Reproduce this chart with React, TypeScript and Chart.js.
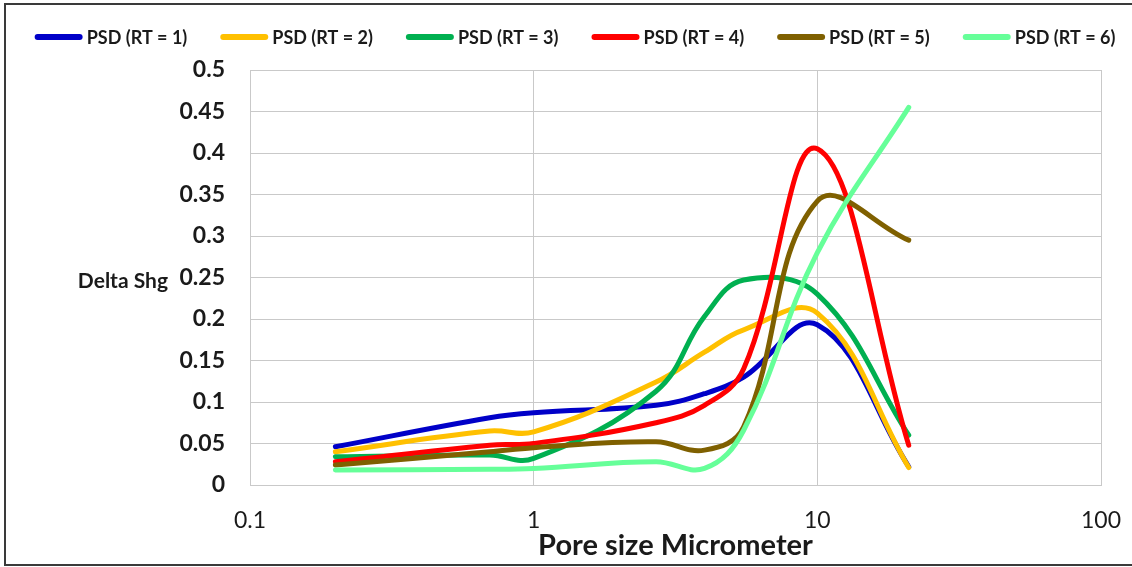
import React, { useEffect, useRef } from "react";
import { Chart, registerables } from "chart.js";

Chart.register(...registerables);

// ---- data ----
const poreSizes = [0.2, 0.7, 1, 2.7, 4, 5.5, 10, 21];
const rt1 = [0.046, 0.081, 0.087, 0.096, 0.11, 0.13, 0.193, 0.022];
const rt2 = [0.04, 0.065, 0.064, 0.124, 0.16, 0.187, 0.207, 0.021];
const rt3 = [0.034, 0.036, 0.032, 0.113, 0.203, 0.247, 0.23, 0.06];
const rt4 = [0.028, 0.048, 0.05, 0.075, 0.096, 0.14, 0.405, 0.048];
const rt5 = [0.024, 0.04, 0.045, 0.052, 0.042, 0.07, 0.342, 0.295];
const rt6 = [0.018, 0.019, 0.02, 0.028, 0.02, 0.066, 0.28, 0.455];

const seriesValues = [rt1, rt2, rt3, rt4, rt5, rt6];
const seriesLabels = [
  "PSD (RT = 1)",
  "PSD (RT = 2)",
  "PSD (RT = 3)",
  "PSD (RT = 4)",
  "PSD (RT = 5)",
  "PSD (RT = 6)",
];
const seriesColors = ["#0000C8", "#FFC000", "#00B050", "#FF0000", "#7F6000", "#66FF99"];
const xTickValues = [0.1, 1, 10, 100];
const yTickValues = [0, 0.05, 0.1, 0.15, 0.2, 0.25, 0.3, 0.35, 0.4, 0.45, 0.5];
const xTitle = "Pore size Micrometer";
const yTitle = "Delta Shg";

const FONT = "Lato, 'Open Sans', 'DejaVu Sans', sans-serif";
const TEXT = "#1a1a1a";
const GRID = "#c9c9c9";

const decorPlugin = {
  id: "decor",
  beforeDraw(chart: any) {
    const { ctx, width, height } = chart;
    ctx.save();
    ctx.fillStyle = "#ffffff";
    ctx.fillRect(0, 0, width, height);
    ctx.restore();
  },
  afterDraw(chart: any) {
    const { ctx, chartArea, width } = chart;
    ctx.save();
    // outer frame (left, top, bottom)
    ctx.strokeStyle = "#3a3a3a";
    ctx.lineWidth = 2;
    ctx.beginPath();
    ctx.moveTo(width + 4, 4);
    ctx.lineTo(5, 4);
    ctx.lineTo(5, 565);
    ctx.lineTo(width + 4, 565);
    ctx.stroke();

    // y axis title (horizontal)
    ctx.font = `bold 21px ${FONT}`;
    ctx.fillStyle = TEXT;
    ctx.textAlign = "right";
    ctx.textBaseline = "middle";
    ctx.fillText(yTitle, chartArea.left - 82, (chartArea.top + chartArea.bottom) / 2 + 4);

    // legend
    ctx.font = `bold 18px ${FONT}`;
    const lineW = 48;
    const gap = 4;
    const spacing = 33;
    const widths = seriesLabels.map((t) => ctx.measureText(t).width);
    const total =
      widths.reduce((a, w) => a + lineW + gap + w, 0) + spacing * (seriesLabels.length - 1);
    let x = 575 - total / 2;
    const y = 37;
    ctx.textAlign = "left";
    ctx.lineCap = "round";
    ctx.lineWidth = 6;
    seriesLabels.forEach((label, i) => {
      ctx.strokeStyle = seriesColors[i];
      ctx.beginPath();
      ctx.moveTo(x + 3, y);
      ctx.lineTo(x + lineW - 3, y);
      ctx.stroke();
      ctx.fillStyle = TEXT;
      ctx.fillText(label, x + lineW + gap, y + 1);
      x += lineW + gap + widths[i] + spacing;
    });
    ctx.restore();
  },
};

export default function App() {
  const canvasRef = useRef<HTMLCanvasElement | null>(null);

  useEffect(() => {
    document.body.style.margin = "0";
    const canvas = canvasRef.current;
    if (!canvas) return;
    const chart = new Chart(canvas, {
      type: "line",
      data: {
        datasets: seriesValues.map((vals, i) => ({
          label: seriesLabels[i],
          data: poreSizes.map((x, j) => ({ x, y: vals[j] })),
          borderColor: seriesColors[i],
          backgroundColor: seriesColors[i],
          borderWidth: 5,
          borderCapStyle: "round",
          borderJoinStyle: "round",
          pointRadius: 0,
          pointHoverRadius: 0,
          tension: 0.4,
          fill: false,
          order: seriesValues.length - i,
        })),
      },
      options: {
        animation: false,
        responsive: false,
        devicePixelRatio: 1,
        layout: { padding: { top: 70, left: 0, right: 31, bottom: 0 } },
        plugins: {
          legend: { display: false },
          tooltip: { enabled: false },
        },
        events: [],
        scales: {
          x: {
            type: "logarithmic",
            min: 0.1,
            max: 100,
            afterBuildTicks: (s: any) => {
              s.ticks = xTickValues.map((v) => ({ value: v }));
            },
            afterFit: (s: any) => {
              s.height = 82;
            },
            ticks: {
              autoSkip: false,
              maxRotation: 0,
              padding: 6,
              color: TEXT,
              font: { family: FONT, size: 23 },
              callback: (v: any) => String(v),
            },
            grid: {
              color: GRID,
              lineWidth: 1,
              drawTicks: true,
              tickLength: 16,
              tickColor: "rgba(0,0,0,0)",
            },
            border: { display: true, color: GRID },
            title: {
              display: true,
              text: xTitle,
              color: TEXT,
              font: { family: FONT, size: 29, weight: "bold" },
              padding: { top: 0, bottom: 4 },
            },
          },
          y: {
            type: "linear",
            min: 0,
            max: 0.5,
            afterBuildTicks: (s: any) => {
              s.ticks = yTickValues.map((v) => ({ value: v }));
            },
            afterFit: (s: any) => {
              s.width = 250;
            },
            ticks: {
              padding: 25,
              color: TEXT,
              font: { family: FONT, size: 23, weight: "bold" },
              callback: (v: any) => String(parseFloat(Number(v).toFixed(2))),
            },
            grid: { color: GRID, lineWidth: 1, drawTicks: false },
            border: { display: true, color: GRID },
          },
        },
      },
      plugins: [decorPlugin],
    } as any);
    return () => chart.destroy();
  }, []);

  return (
    <div style={{ position: "absolute", left: 0, top: 0, width: 1132, height: 567 }}>
      <canvas ref={canvasRef} width={1132} height={567} />
    </div>
  );
}
